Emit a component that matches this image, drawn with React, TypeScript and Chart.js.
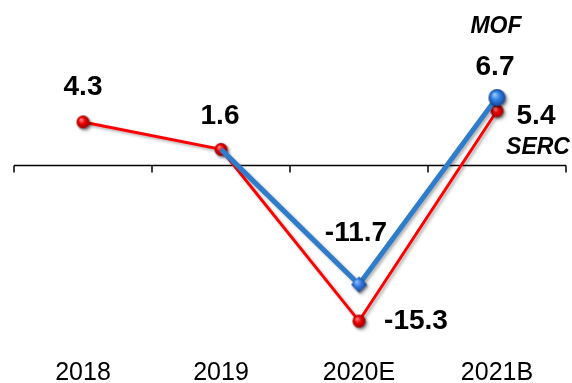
import React, { useEffect, useRef } from "react";
import { Chart, registerables } from "chart.js";

Chart.register(...registerables);

const categories = ["2018", "2019", "2020E", "2021B"];
const serc = [4.3, 1.6, -15.3, 5.4];
const mof = [null, 1.6, -11.7, 6.7];
const sercLabels = ["4.3", "1.6", "-15.3", "5.4"];
const mofLabels = ["", "", "-11.7", "6.7"];

function sphere(r: number, light: string, mid: string, dark: string, diamond = false): HTMLCanvasElement {
  const pad = 3;
  const size = Math.ceil(r * 2 + pad * 2);
  const c = document.createElement("canvas");
  c.width = size;
  c.height = size;
  const ctx = c.getContext("2d")!;
  const cx = size / 2;
  const cy = size / 2;
  ctx.shadowColor = "rgba(0,0,0,0.35)";
  ctx.shadowBlur = 2;
  ctx.shadowOffsetX = 1;
  ctx.shadowOffsetY = 1.5;
  const g = ctx.createRadialGradient(cx - r * 0.3, cy - r * 0.35, r * 0.1, cx, cy, r);
  g.addColorStop(0, light);
  g.addColorStop(0.45, mid);
  g.addColorStop(1, dark);
  ctx.fillStyle = g;
  ctx.beginPath();
  if (diamond) {
    ctx.moveTo(cx, cy - r);
    ctx.lineTo(cx + r, cy);
    ctx.lineTo(cx, cy + r);
    ctx.lineTo(cx - r, cy);
    ctx.closePath();
  } else {
    ctx.arc(cx, cy, r, 0, Math.PI * 2);
  }
  ctx.fill();
  return c;
}

const FONT = "'Liberation Sans', Arial, sans-serif";

export default function App() {
  const ref = useRef<HTMLCanvasElement>(null);
  useEffect(() => {
    const redBall = sphere(6.5, "#ff8080", "#ee0000", "#9a0000");
    const blueBall = sphere(8.5, "#8fc4ff", "#2f7fe0", "#1646a0");
    const blueDiamond = sphere(8, "#7fb6ff", "#2f74d8", "#1646a0", true);
    const none = document.createElement("canvas");
    none.width = 1;
    none.height = 1;

    const shadowPlugin = {
      id: "shadow",
      beforeDatasetDraw(chart: any) {
        const ctx = chart.ctx;
        ctx.save();
        ctx.shadowColor = "rgba(0,0,0,0.3)";
        ctx.shadowBlur = 3;
        ctx.shadowOffsetX = 2;
        ctx.shadowOffsetY = 2;
      },
      afterDatasetDraw(chart: any) {
        chart.ctx.restore();
      },
    };

    const axisPlugin = {
      id: "zeroAxis",
      beforeDatasetsDraw(chart: any) {
        const { ctx, chartArea, scales } = chart;
        const y0 = scales.y.getPixelForValue(0);
        ctx.save();
        ctx.strokeStyle = "#000";
        ctx.lineWidth = 1.5;
        ctx.beginPath();
        ctx.moveTo(chartArea.left, y0);
        ctx.lineTo(chartArea.right, y0);
        const n = categories.length;
        const w = (chartArea.right - chartArea.left) / n;
        for (let i = 0; i <= n; i++) {
          const x = chartArea.left + i * w;
          ctx.moveTo(x, y0);
          ctx.lineTo(x, y0 + 7);
        }
        ctx.stroke();
        ctx.restore();
      },
    };

    const labelPlugin = {
      id: "valueLabels",
      afterDatasetsDraw(chart: any) {
        const { ctx, scales } = chart;
        const xs = scales.x;
        const ys = scales.y;
        ctx.save();
        ctx.fillStyle = "#000";
        ctx.textAlign = "center";
        ctx.textBaseline = "middle";
        ctx.font = "bold 28px " + FONT;
        const sercOff = [
          [0, -35],
          [-1, -33],
          [57, 0],
          [39, 6],
        ];
        const mofOff = [
          [0, 0],
          [0, 0],
          [-3, -51],
          [-2, -30],
        ];
        sercLabels.forEach((t, i) => {
          if (!t) return;
          const x = xs.getPixelForValue(i) + sercOff[i][0];
          const y = ys.getPixelForValue(serc[i]) + sercOff[i][1];
          ctx.fillText(t, x, y);
        });
        mofLabels.forEach((t, i) => {
          if (!t) return;
          const v = mof[i] as number;
          const x = xs.getPixelForValue(i) + mofOff[i][0];
          const y = ys.getPixelForValue(v) + mofOff[i][1];
          ctx.fillText(t, x, y);
        });
        ctx.font = "italic bold 23px " + FONT;
        const last = categories.length - 1;
        ctx.fillText("MOF", xs.getPixelForValue(last) - 1, ys.getPixelForValue(mof[last] as number) - 71);
        ctx.fillText("SERC", xs.getPixelForValue(last) + 41, ys.getPixelForValue(serc[last]) + 37);
        ctx.restore();
      },
    };

    const chart = new Chart(ref.current!, {
      type: "line",
      data: {
        labels: categories,
        datasets: [
          {
            label: "MOF",
            data: mof,
            borderColor: "#2f7ccb",
            borderWidth: 5,
            pointStyle: [none, none, blueDiamond, blueBall] as any,
            pointRadius: 8,
            spanGaps: false,
            order: 0,
          },
          {
            label: "SERC",
            data: serc,
            borderColor: "#ff0000",
            borderWidth: 3,
            pointStyle: redBall as any,
            pointRadius: 6,
            order: 1,
          },
        ],
      },
      options: {
        animation: false,
        responsive: false,
        layout: { autoPadding: false, padding: { left: 14, right: 6, top: 64, bottom: -14.5 } },
        plugins: {
          legend: { display: false },
          tooltip: { enabled: false },
        },
        scales: {
          x: {
            offset: true,
            grid: { display: false, drawTicks: false },
            border: { display: false },
            afterFit(scale: any) {
              scale.paddingLeft = 0;
              scale.paddingRight = 0;
            },
            ticks: {
              color: "#000",
              padding: 9.5,
              maxRotation: 0,
              font: { family: FONT, size: 25, lineHeight: 1.2 },
            },
          },
          y: {
            display: false,
            min: -18,
            max: 10,
          },
        },
      },
      plugins: [shadowPlugin, axisPlugin, labelPlugin],
    });
    return () => chart.destroy();
  }, []);

  return (
    <div style={{ position: "fixed", left: 0, top: 0, width: 572, height: 383, background: "#fff" }}>
      <canvas ref={ref} width={572} height={383} style={{ width: 572, height: 383, display: "block" }} />
    </div>
  );
}
